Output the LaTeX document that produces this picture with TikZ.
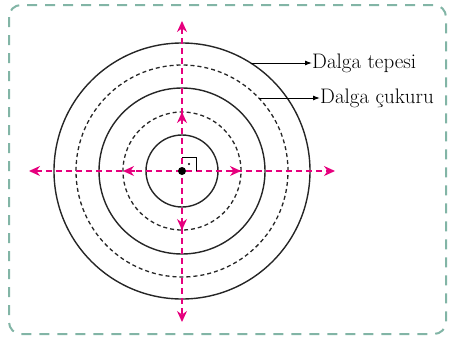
\documentclass[tikz,border=0pt]{standalone}
\usetikzlibrary{arrows.meta,calc}
\definecolor{mag}{HTML}{E6007E}
\definecolor{frame}{HTML}{82B5A6}
\begin{document}
\begin{tikzpicture}[x=1pt,y=-1pt,
  solidring/.style={draw=black!85,line width=1.4pt},
  dashring/.style={draw=black!85,line width=1.3pt,dash pattern=on 4pt off 3pt},
  magline/.style={draw=mag,line width=1.3pt,dash pattern=on 6pt off 4pt},
  magtip/.style={draw=mag,line width=1.3pt,-{Stealth[length=11pt,width=10pt]}},
  lblarrow/.style={draw=black,line width=1pt,-{Latex[length=7pt,width=5pt]}},
  lbl/.style={anchor=west,inner sep=0pt,font=\fontsize{21}{23}\selectfont}]
\useasboundingbox (0,0) rectangle (453,338);
\draw[frame,line width=2pt,dash pattern=on 10pt off 8pt,rounded corners=12pt] (9,5) rectangle (446,334);
\coordinate (c) at (182,171);
\draw[solidring] (c) circle[radius=128pt];
\draw[dashring] (c) circle[radius=106pt];
\draw[solidring] (c) circle[radius=83pt];
\draw[dashring] (c) circle[radius=59pt];
\draw[solidring] (c) circle[radius=36pt];
% axes
\coordinate (L) at (29,171);
\coordinate (R) at (335,171);
\coordinate (T) at (182,21);
\coordinate (B) at (182,322);
\coordinate (l) at (123,171);
\coordinate (r) at (241,171);
\coordinate (t) at (182,112);
\coordinate (b) at (182,230);
\draw[magline,{Stealth[length=11pt,width=10pt]}-{Stealth[length=11pt,width=10pt]}] (L) -- (R);
\draw[magline,{Stealth[length=11pt,width=10pt]}-{Stealth[length=11pt,width=10pt]}] (T) -- (B);
\draw[magtip] ($(l)!12pt!(c)$) -- (l);
\draw[magtip] ($(r)!12pt!(c)$) -- (r);
\draw[magtip] ($(t)!12pt!(c)$) -- (t);
\draw[magtip] ($(b)!12pt!(c)$) -- (b);
% right angle mark
\draw[black,line width=0.8pt] (182,157) -- (196,157) -- (196,171);
\fill (189,164) circle[radius=1.2pt];
\fill (c) circle[radius=4pt];
% labels
\node[lbl] (tep) at (312,63) {Dalga tepesi};
\node[lbl] (cuk) at (320,98) {Dalga çukuru};
\coordinate (tepS) at (251,63);
\coordinate (cukS) at (259,98);
\draw[lblarrow] (tepS) -- (tep.west);
\draw[lblarrow] (cukS) -- (cuk.west);
\end{tikzpicture}
\end{document}
